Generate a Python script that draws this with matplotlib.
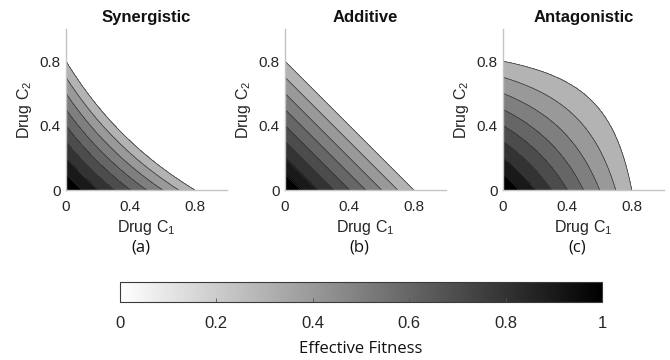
import numpy as np
import matplotlib
matplotlib.use("Agg")
import matplotlib.pyplot as plt
from matplotlib.colors import Normalize
from matplotlib.cm import ScalarMappable

plt.rcParams['font.family'] = ['Liberation Sans', 'DejaVu Sans']
plt.rcParams['mathtext.fontset'] = 'custom'
plt.rcParams['mathtext.rm'] = 'Liberation Sans'
plt.rcParams['mathtext.it'] = 'Liberation Sans:italic'

# ---- data ----
titles = ["Synergistic", "Additive", "Antagonistic"]
panel_labels = ["(a)", "(b)", "(c)"]
interaction = [0.8, 0.0, -1.0]        # interaction coefficient of each panel
fitness_levels = [0.2, 0.3, 0.4, 0.5, 0.6, 0.7, 0.8, 0.9, 1.0]
axis_ticks = [0, 0.4, 0.8]
axis_ticklabels = ["0", "0.4", "0.8"]
cbar_ticks = [0, 0.2, 0.4, 0.6, 0.8, 1]
cbar_ticklabels = ["0", "0.2", "0.4", "0.6", "0.8", "1"]

W, H = 670, 360
fig = plt.figure(figsize=(W / 100, H / 100), dpi=100)

cmap = plt.get_cmap('gray_r')
norm = Normalize(0, 1)

c = np.linspace(0, 1, 600)
C1, C2 = np.meshgrid(c, c)

lefts = [66, 285, 503]
top, size = 29, 161
spine_col = '#c4c4c4'
text_col = '#262626'

band_colors = [cmap(norm(hi)) for hi in fitness_levels[1:]]

for i, left in enumerate(lefts):
    ax = fig.add_axes([left / W, 1 - (top + size) / H, size / W, size / H])
    k = interaction[i]
    D = C1 + C2 + k * C1 * C2
    F = 1 - D
    ax.contourf(C1, C2, F, levels=fitness_levels, colors=band_colors)
    ax.contour(C1, C2, F, levels=fitness_levels[:-1], colors='#333333', linewidths=0.5)
    ax.set_xlim(0, 1)
    ax.set_ylim(0, 1)
    for s in ['top', 'right']:
        ax.spines[s].set_visible(False)
    for s in ['left', 'bottom']:
        ax.spines[s].set_color(spine_col)
        ax.spines[s].set_linewidth(1.0)
    ax.set_xticks(axis_ticks)
    ax.set_xticklabels(axis_ticklabels)
    ax.set_yticks(axis_ticks)
    ax.set_yticklabels(axis_ticklabels)
    ax.tick_params(axis='both', length=0, labelsize=11, labelcolor=text_col)
    ax.tick_params(axis='x', pad=7)
    ax.tick_params(axis='y', pad=4)
    ax.set_xlabel('Drug C$_1$', fontsize=11.5, color=text_col, labelpad=3)
    ax.set_ylabel('Drug C$_2$', fontsize=11.5, color=text_col, labelpad=4)
    ax.set_title(titles[i], fontsize=12, fontweight='bold', color='#111111', pad=5)
    cx = left + size / 2
    fig.text((cx - 6) / W, 1 - 247 / H, panel_labels[i], fontsize=12,
             family='Open Sans', color='#111111', ha='center', va='center')

# colorbar
cax = fig.add_axes([120 / W, 1 - 302 / H, 482 / W, 20 / H])
sm = ScalarMappable(norm=norm, cmap=cmap)
cb = fig.colorbar(sm, cax=cax, orientation='horizontal')
cb.set_ticks(cbar_ticks)
cb.set_ticklabels(cbar_ticklabels)
cb.outline.set_edgecolor('#3a3a3a')
cb.outline.set_linewidth(0.8)
cax.tick_params(axis='x', direction='in', length=3, width=0.6, color='#555555',
                labelsize=12, labelcolor=text_col, pad=10)
fig.text(361 / W, 1 - 349 / H, 'Effective Fitness', fontsize=12, family='Open Sans',
         color='#111111', ha='center', va='center')

fig.savefig('out.png', dpi=100)
